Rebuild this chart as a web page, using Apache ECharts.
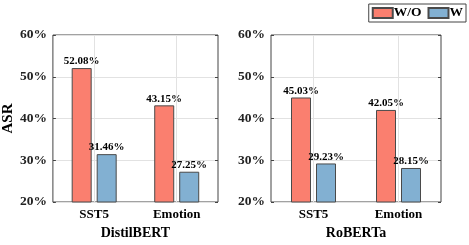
<!DOCTYPE html>
<html><head><meta charset="utf-8">
<script src="https://cdn.jsdelivr.net/npm/echarts@6/dist/echarts.min.js"></script>
<style>html,body{margin:0;padding:0;background:#fff}#c{width:469px;height:245px}</style>
</head><body><div id="c"></div>
<script>
const categories = ['SST5', 'Emotion'];
const models = ['DistilBERT', 'RoBERTa'];
const seriesNames = ['W/O', 'W'];
const distilWO = [52.08, 43.15];
const distilW = [31.46, 27.25];
const robertaWO = [45.03, 42.05];
const robertaW = [29.23, 28.15];
const yTicks = { min: 20, max: 60, interval: 10 };

const FONT = '"Liberation Serif","Times New Roman",serif';
const colors = ['#FA7F6F', '#82B0D2'];
const chart = echarts.init(document.getElementById('c'), null, { renderer: 'canvas' });

const grids = [
  { left: 48, top: 35, width: 170, height: 170 },
  { left: 271, top: 35, width: 170, height: 170 }
];
const xAxes = [], yAxes = [], series = [];
const data = [[distilWO, distilW], [robertaWO, robertaW]];
grids.forEach((g, gi) => {
  g.show = true; g.borderColor = '#444'; g.borderWidth = 1; g.backgroundColor = '#fff';
  xAxes.push({
    type: 'category', gridIndex: gi, data: categories,
    name: models[gi], nameLocation: 'middle', nameGap: 24,
    nameTextStyle: { fontFamily: FONT, fontWeight: 'bold', fontSize: 14, color: '#000' },
    axisLine: { show: false }, axisTick: { show: false },
    axisLabel: { fontFamily: FONT, fontWeight: 'bold', fontSize: 13, color: '#000', margin: 6 },
    splitLine: { show: false }
  });
  yAxes.push({
    type: 'value', gridIndex: gi, min: yTicks.min, max: yTicks.max, interval: yTicks.interval,
    name: gi === 0 ? 'ASR' : '', nameLocation: 'middle', nameGap: 34,
    nameTextStyle: { fontFamily: FONT, fontWeight: 'bold', fontSize: 15, color: '#000' },
    axisLine: { show: false },
    axisTick: { show: true, inside: true, length: 3, lineStyle: { color: '#444' } },
    axisLabel: { formatter: '{value}%', fontFamily: FONT, fontWeight: 'bold', fontSize: 13.5, color: '#222', margin: 6 },
    splitLine: { show: true, lineStyle: { color: '#e2e2e2', width: 1 } }
  });
  yAxes.push({
    type: 'value', gridIndex: gi, position: 'right', min: yTicks.min, max: yTicks.max, interval: yTicks.interval,
    axisLine: { show: false },
    axisTick: { show: true, inside: true, length: 3, lineStyle: { color: '#444' } },
    axisLabel: { show: false }, splitLine: { show: false }
  });
  series.push({
    type: 'line', xAxisIndex: gi, yAxisIndex: gi * 2, data: [], z: 1, silent: true,
    markLine: {
      silent: true, symbol: 'none', label: { show: false },
      lineStyle: { color: '#e2e2e2', type: 'solid', width: 1 },
      data: categories.map(c => ({ xAxis: c }))
    }
  });
  data[gi].forEach((vals, si) => {
    series.push({
      type: 'bar', name: seriesNames[si], xAxisIndex: gi, yAxisIndex: gi * 2, data: vals,
      barWidth: 20, barGap: '25%', z: 3,
      itemStyle: { color: colors[si], borderColor: '#4a4a4a', borderWidth: 1 },
      label: {
        show: true, position: 'top', distance: 1,
        formatter: p => p.value.toFixed(2) + '%',
        fontFamily: FONT, fontWeight: 'bold', fontSize: 11, color: '#000'
      }
    });
  });
});

chart.setOption({
  animation: false,
  grid: grids,
  xAxis: xAxes,
  yAxis: yAxes,
  legend: {
    data: seriesNames, top: 4, right: 3, icon: 'rect',
    itemWidth: 20, itemHeight: 10, itemGap: 6,
    borderColor: '#444', borderWidth: 1, padding: [2, 3], backgroundColor: '#fff',
    textStyle: { fontFamily: FONT, fontWeight: 'bold', fontSize: 13.5, color: '#000', padding: [0, 0, 0, -4] }
  },
  series: series
});
</script></body></html>
